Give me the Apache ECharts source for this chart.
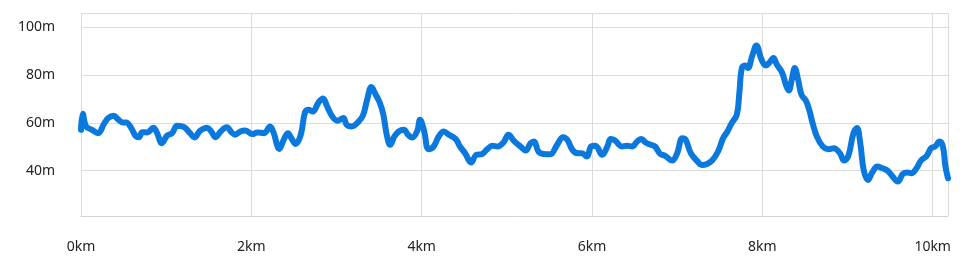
<!DOCTYPE html>
<html>
<head>
<meta charset="utf-8">
<script src="https://cdn.jsdelivr.net/npm/echarts@6/dist/echarts.min.js"></script>
<style>
html,body{margin:0;padding:0;background:#fff;}
#chart{width:963px;height:266px;}
</style>
</head>
<body>
<div id="chart"></div>
<script>
const distanceKm = [0,0.02,0.06,0.13,0.2,0.27,0.32,0.38,0.44,0.49,0.53,0.59,0.64,0.68,0.72,0.78,0.85,0.89,0.95,1.01,1.07,1.13,1.21,1.28,1.33,1.40,1.48,1.53,1.58,1.64,1.71,1.77,1.81,1.87,1.93,2.01,2.07,2.15,2.22,2.26,2.33,2.38,2.43,2.47,2.52,2.58,2.63,2.67,2.72,2.79,2.84,2.89,2.95,3.01,3.08,3.12,3.18,3.25,3.31,3.36,3.41,3.46,3.51,3.55,3.59,3.63,3.68,3.73,3.79,3.84,3.89,3.95,3.98,4.03,4.08,4.14,4.20,4.26,4.32,4.40,4.45,4.51,4.58,4.64,4.71,4.77,4.83,4.89,4.96,5.02,5.08,5.16,5.22,5.28,5.32,5.37,5.43,5.51,5.59,5.66,5.71,5.77,5.83,5.88,5.94,5.99,6.04,6.12,6.18,6.22,6.27,6.35,6.41,6.47,6.53,6.58,6.63,6.69,6.74,6.80,6.86,6.94,7.00,7.06,7.10,7.16,7.23,7.29,7.35,7.41,7.48,7.54,7.59,7.64,7.70,7.73,7.76,7.80,7.83,7.88,7.93,7.99,8.04,8.08,8.13,8.17,8.23,8.28,8.31,8.35,8.38,8.42,8.46,8.51,8.55,8.59,8.64,8.71,8.78,8.84,8.91,8.96,9.01,9.07,9.11,9.15,9.19,9.24,9.29,9.35,9.41,9.47,9.53,9.59,9.65,9.70,9.75,9.81,9.86,9.93,9.98,10.03,10.08,10.12,10.15,10.18];
const elevationM = [57.1,63.8,58.5,57.1,55.7,59.6,62,63,61.3,60.2,60.2,57.8,54.6,54,56.1,56,58,56,51.5,54.6,55.7,58.8,58.2,55.7,53.9,56.7,58,56.4,54,56.4,58.2,56,55,56.4,56.8,55.3,56,55.7,58.5,56,49.1,52.9,55.7,53.6,51.2,55,64.4,65.5,64.8,68.6,70.2,66.9,62.7,60.9,62,59.2,58.5,60.2,63,69.7,75,71.8,68.3,63.4,55,50.8,54.3,56.4,57.1,55,53.9,56.8,61.3,56.4,49,50.1,54.3,56.4,55,53.2,50.1,47.3,43.4,46.6,47,49,50.4,50.1,51.8,55,52.6,50.1,48.4,51.5,52.2,48,47,46.9,50.8,54,52.9,48.7,47.3,47.3,45.9,50.1,50.4,46.6,50.1,53.2,52.6,50.1,50.4,50.1,52.2,53.2,51.8,50.8,50.1,47,46.2,44.2,47.3,53.6,52.9,47.3,44.2,42.4,42.8,44.2,48,53.6,56.4,59.9,63.4,72.5,83,84,83,87.9,92.4,86.5,84,85.1,87.2,84.4,81.2,75.6,73.6,78.8,83,78.1,71.8,69.4,65.5,59.9,54.3,50.1,49,49.4,47.3,44.2,46.2,55.7,57.8,51.5,40.3,36.1,39.2,41.7,41,40,37.5,35.4,38.6,39.2,38.9,41,44.1,46.2,49.4,50.1,52.2,50.1,41.7,36.8];
const xTickUnit = 'km';
const yTickUnit = 'm';

const chart = echarts.init(document.getElementById('chart'), null, {renderer: 'canvas'});
const seriesData = distanceKm.map((d, i) => [d, elevationM[i]]);
const textStyle = {color: '#222', fontFamily: 'Noto Sans', fontSize: 14};
chart.setOption({
  animation: false,
  backgroundColor: '#fff',
  grid: {left: 81, right: 15, top: 13, bottom: 50, containLabel: false},
  xAxis: {
    type: 'value',
    min: 0,
    max: 10.18,
    interval: 2,
    axisLine: {show: true, lineStyle: {color: '#d4d4d4', width: 1}},
    axisTick: {show: false},
    axisLabel: Object.assign({margin: 24, showMaxLabel: false, formatter: v => v + xTickUnit}, textStyle),
    splitLine: {show: true, lineStyle: {color: '#dcdcdc', width: 1}}
  },
  yAxis: {
    type: 'value',
    min: 21,
    max: 106,
    axisLine: {show: false},
    axisTick: {show: false},
    axisLabel: Object.assign({margin: 26, showMinLabel: false, showMaxLabel: false, formatter: v => v + yTickUnit}, textStyle),
    splitLine: {show: true, lineStyle: {color: '#dcdcdc', width: 1}}
  },
  series: [{
    type: 'line',
    data: seriesData,
    smooth: 0.4,
    showSymbol: false,
    lineStyle: {color: '#0a78dc', width: 6, cap: 'round', join: 'round'},
    itemStyle: {color: '#0a78dc'}
  }]
});
</script>
</body>
</html>
